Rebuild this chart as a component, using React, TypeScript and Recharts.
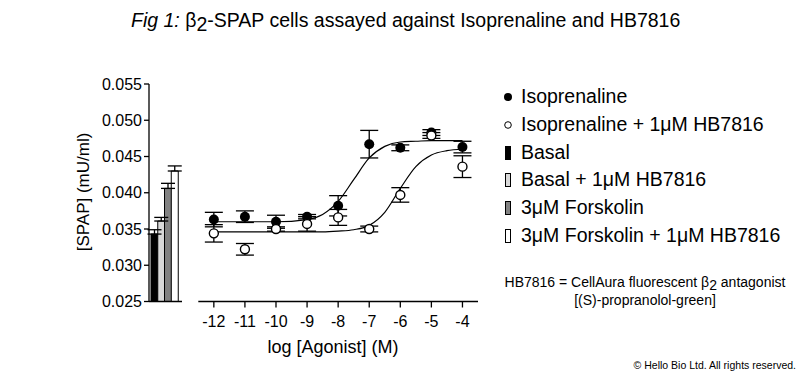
import React from 'react';
import { BarChart, Bar, Cell, ErrorBar, ComposedChart, Line, Scatter, XAxis, YAxis } from 'recharts';

// log [Agonist] (M) doses and responses
const doses = [-12, -11, -10, -9, -8, -7, -6, -5, -4];
const isoMean = [0.0363, 0.0367, 0.036, 0.0367, 0.0382, 0.0467, 0.0462, 0.0483, 0.0463];
const isoSem = [0.001, 0.0008, 0.0009, 0.0003, 0.0014, 0.0019, 0.0004, 0.0004, 0.0008];
const isoHbMean = [0.0344, 0.0322, 0.035, 0.0357, 0.0366, 0.035, 0.0397, 0.0479, 0.0436];
const isoHbSem = [0.0012, 0.0008, 0.0003, 0.001, 0.0011, 0.0004, 0.001, 0.0004, 0.0015];

// fitted curves, read at half-log steps
const fitX = [-12, -11, -10, -9, -8.5, -8, -7.5, -7, -6.5, -6, -5.5, -5, -4.5, -4];
const isoFit = [0.036, 0.036, 0.036, 0.0363, 0.037, 0.0388, 0.0418, 0.0448, 0.0464, 0.047, 0.0471, 0.0472, 0.0472, 0.0472];
const isoHbFit = [0.0346, 0.0346, 0.0346, 0.0346, 0.0346, 0.0347, 0.0349, 0.0355, 0.0373, 0.0406, 0.0436, 0.0452, 0.0458, 0.046];

// control bars
const barNames = ['Basal', 'Basal + 1μM HB7816', '3μM Forskolin', '3μM Forskolin + 1μM HB7816'];
const barMeans = [0.0343, 0.0361, 0.0406, 0.043];
const barSems = [0.0006, 0.0005, 0.0007, 0.0007];

const yTicks = [0.025, 0.03, 0.035, 0.04, 0.045, 0.05, 0.055];
const xTicks = [-12.5, -12, -11, -10, -9, -8, -7, -6, -5, -4];

const barFills = ['#000', '#d9d9d9', '#828282', '#fff'];
const FONT = '"Liberation Sans", Arial, sans-serif';

const barData = barNames.map((name, i) => ({ name, mean: barMeans[i], err: [0, barSems[i]] }));
const isoData = doses.map((x, i) => ({ x, y: isoMean[i], sem: isoSem[i] }));
const isoHbData = doses.map((x, i) => ({ x, y: isoHbMean[i], sem: isoHbSem[i] }));
const isoFitData = fitX.map((x, i) => ({ x, y: isoFit[i] }));
const isoHbFitData = fitX.map((x, i) => ({ x, y: isoHbFit[i] }));

const legendItems = [
  { label: 'Isoprenaline', icon: 'dot' },
  { label: 'Isoprenaline + 1μM HB7816', icon: 'ring' },
  ...barNames.map((label, i) => ({ label, icon: 'bar', fill: barFills[i] })),
];

const FilledDot = (props: any) => <circle cx={props.cx} cy={props.cy} r={5} fill="#000" />;
const OpenDot = (props: any) => (
  <circle cx={props.cx} cy={props.cy} r={4.5} fill="#fff" stroke="#000" strokeWidth={1.4} />
);

const LegendIcon = ({ icon, fill }: { icon: string; fill?: string }) => (
  <svg width={12} height={16} style={{ position: 'absolute', left: 0, top: 6 }}>
    {icon === 'dot' && <circle cx={6} cy={8} r={4} fill="#000" />}
    {icon === 'ring' && <circle cx={6} cy={8} r={3.3} fill="#fff" stroke="#000" strokeWidth={1} />}
    {icon === 'bar' && <rect x={3.5} y={1.5} width={5} height={13} fill={fill} stroke="#000" strokeWidth={1} />}
  </svg>
);

export default function App() {
  return (
    <div style={{ position: 'absolute', left: 0, top: 0, width: 800, height: 372, background: '#fff', fontFamily: FONT, color: '#000' }}>
      <div style={{ position: 'absolute', left: 131, top: 11, fontSize: 19.5, lineHeight: 1, whiteSpace: 'nowrap' }}>
        <i>Fig 1:</i> β<span style={{ position: 'relative', top: 4 }}>2</span>-SPAP cells assayed against Isoprenaline and HB7816
      </div>

      <div style={{ position: 'absolute', left: 84, top: 192, width: 0, height: 0 }}>
        <div style={{ position: 'absolute', left: -100, top: -10, width: 200, textAlign: 'center', fontSize: 17, lineHeight: '20px', transform: 'rotate(-90deg)', whiteSpace: 'nowrap' }}>
          [SPAP] (mU/ml)
        </div>
      </div>

      <div style={{ position: 'absolute', left: 0, top: 0 }}>
        <BarChart width={190} height={372} data={barData} barCategoryGap={0} margin={{ top: 84, right: 8, bottom: 68.5, left: 0 }}>
          <XAxis dataKey="name" height={2} tick={false} tickLine={false} padding={{ left: 2, right: 4 }} axisLine={{ stroke: '#000', strokeWidth: 1.3 }} />
          <YAxis
            width={149}
            domain={[0.025, 0.055]}
            ticks={yTicks}
            tickFormatter={(v: number) => v.toFixed(3)}
            tickSize={5}
            tickMargin={2}
            tick={{ fontSize: 16, fill: '#000', fontFamily: FONT }}
            tickLine={{ stroke: '#000', strokeWidth: 1.3 }}
            axisLine={{ stroke: '#000', strokeWidth: 1.3 }}
          />
          <Bar dataKey="mean" isAnimationActive={false} stroke="#000" strokeWidth={1}>
            {barData.map((d, i) => (
              <Cell key={d.name} fill={barFills[i]} />
            ))}
            <ErrorBar dataKey="err" direction="y" width={7} stroke="#000" strokeWidth={1.3} />
          </Bar>
        </BarChart>
      </div>

      <div style={{ position: 'absolute', left: 190, top: 0 }}>
        <ComposedChart width={300} height={372} margin={{ top: 84, right: 12, bottom: 40.5, left: 8.3 }}>
          <XAxis
            dataKey="x"
            type="number"
            domain={[-12.5, -3.5]}
            ticks={xTicks}
            allowDataOverflow
            tickFormatter={(v: number) => (v === -12.5 ? '' : String(v))}
            tickSize={6}
            tickMargin={8.5}
            height={30}
            tick={{ fontSize: 16, fill: '#000', fontFamily: FONT }}
            tickLine={{ stroke: '#000', strokeWidth: 1.3 }}
            axisLine={{ stroke: '#000', strokeWidth: 1.3 }}
          />
          <YAxis hide type="number" domain={[0.025, 0.055]} />
          <Line data={isoFitData} dataKey="y" type="monotone" dot={false} stroke="#000" strokeWidth={1.2} isAnimationActive={false} />
          <Line data={isoHbFitData} dataKey="y" type="monotone" dot={false} stroke="#000" strokeWidth={1.2} isAnimationActive={false} />
          <Scatter data={isoData} dataKey="y" shape={FilledDot} isAnimationActive={false}>
            <ErrorBar dataKey="sem" direction="y" width={9} stroke="#000" strokeWidth={1.3} />
          </Scatter>
          <Scatter data={isoHbData} dataKey="y" shape={OpenDot} isAnimationActive={false}>
            <ErrorBar dataKey="sem" direction="y" width={9} stroke="#000" strokeWidth={1.3} />
          </Scatter>
        </ComposedChart>
      </div>

      <div style={{ position: 'absolute', left: 233, top: 335, width: 200, textAlign: 'center', fontSize: 18, lineHeight: '24px', whiteSpace: 'nowrap' }}>
        log [Agonist] (M)
      </div>

      <div style={{ position: 'absolute', left: 502, top: 83.1 }}>
        {legendItems.map((item) => (
          <div key={item.label} style={{ position: 'relative', height: 27.8, lineHeight: '27.8px', fontSize: 19.5, paddingLeft: 19, whiteSpace: 'nowrap' }}>
            <LegendIcon icon={item.icon} fill={(item as any).fill} />
            {item.label}
          </div>
        ))}
      </div>

      <div style={{ position: 'absolute', left: 495, top: 272.5, width: 300, textAlign: 'center', fontSize: 14, lineHeight: '18.3px', whiteSpace: 'nowrap' }}>
        HB7816 = CellAura fluorescent β<span style={{ position: 'relative', top: 3 }}>2</span> antagonist
        <br />
        [(S)-propranolol-green]
      </div>

      <div style={{ position: 'absolute', right: 4, top: 358, fontSize: 10.5, lineHeight: '14px', whiteSpace: 'nowrap' }}>
        © Hello Bio Ltd. All rights reserved.
      </div>
    </div>
  );
}
